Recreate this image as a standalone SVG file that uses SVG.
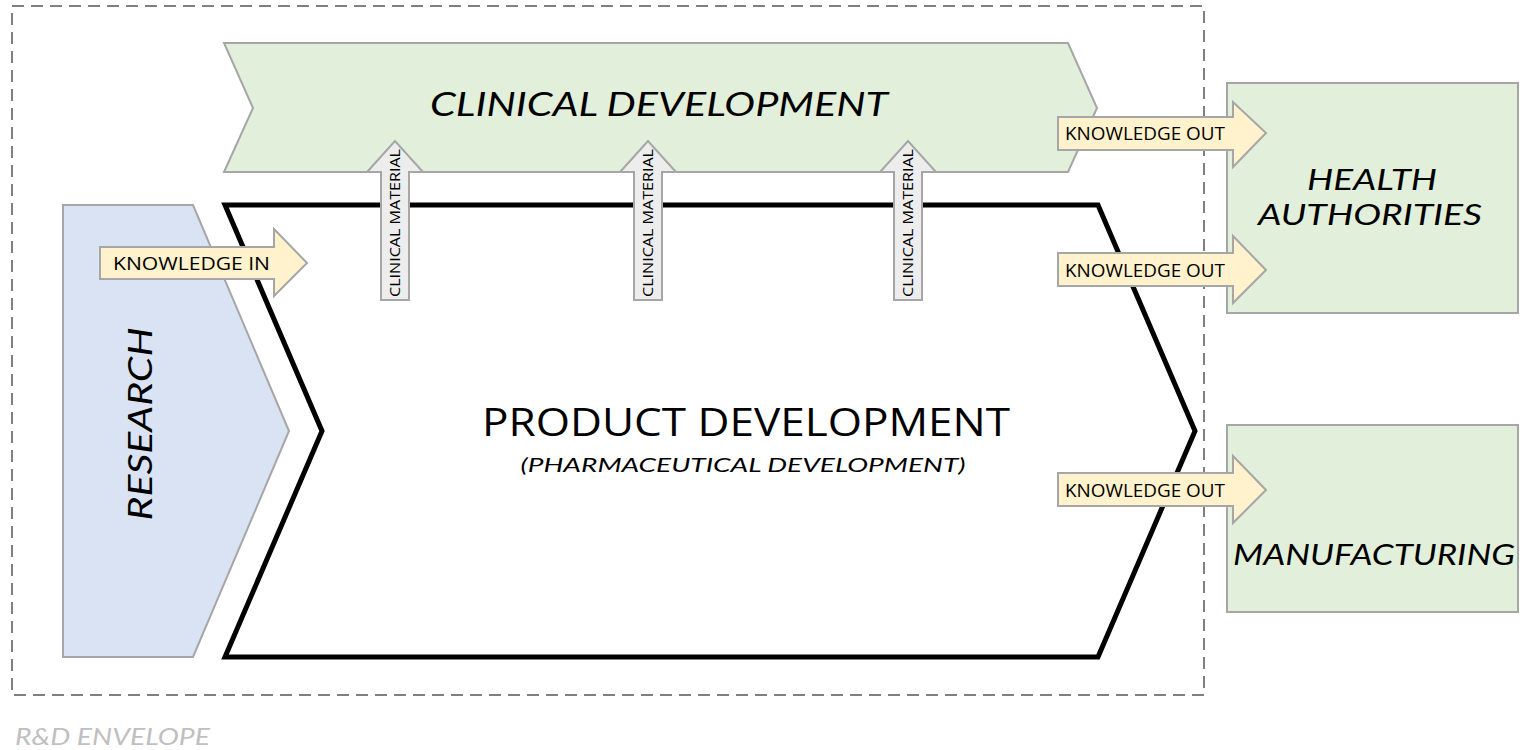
<svg xmlns="http://www.w3.org/2000/svg" width="1531" height="750" viewBox="0 0 1531 750">
<style>
.hand{font-family:"Lato","DejaVu Sans","Liberation Sans",sans-serif;font-style:italic;font-weight:normal;fill:#000}
.cal{font-family:"Open Sans","Liberation Sans",sans-serif;fill:#000}
.ko{fill:#fff2cc;stroke:#a6a6a6;stroke-width:2}
.cm{fill:#ededed;stroke:#a6a6a6;stroke-width:2}
.box{fill:#e2efda;stroke:#a6a6a6;stroke-width:2}
</style>
<rect width="1531" height="750" fill="#fff"/>
<g id="envelope">
<rect x="12" y="6" width="1192" height="689" fill="none" stroke="#808080" stroke-width="2" stroke-dasharray="12,7"/>
<text class="hand" x="15" y="745" font-size="24" style="fill:#bfbfbf" textLength="195" lengthAdjust="spacingAndGlyphs">R&amp;D ENVELOPE</text>
</g>
<g id="clinical">
<polygon points="224,43 1068,43 1097,108 1068,172 224,172 253,108" fill="#e2efda" stroke="#a6a6a6" stroke-width="2"/>
<text class="hand" x="659" y="116" font-size="32" text-anchor="middle" textLength="458" lengthAdjust="spacingAndGlyphs">CLINICAL DEVELOPMENT</text>
</g>
<g id="research">
<polygon points="63,205 193,205 289,431 193,657 63,657" fill="#dae3f3" stroke="#a6a6a6" stroke-width="2"/>
<text class="hand" transform="translate(152,424) rotate(-90)" font-size="32" text-anchor="middle" textLength="193" lengthAdjust="spacingAndGlyphs">RESEARCH</text>
</g>
<g id="product">
<polygon points="225,205 1098,205 1195,431 1098,657 225,657 322,431" fill="#fff" stroke="#000" stroke-width="5" stroke-linejoin="miter"/>
<text class="cal" x="746" y="436" font-size="39" text-anchor="middle" textLength="528" lengthAdjust="spacingAndGlyphs">PRODUCT DEVELOPMENT</text>
<text class="hand" x="743" y="472" font-size="20" text-anchor="middle" textLength="445" lengthAdjust="spacingAndGlyphs">(PHARMACEUTICAL DEVELOPMENT)</text>
</g>
<g id="health">
<rect class="box" x="1227" y="83" width="291" height="230"/>
<text class="hand" x="1372" y="190" font-size="28" text-anchor="middle" textLength="130" lengthAdjust="spacingAndGlyphs">HEALTH</text>
<text class="hand" x="1370" y="225" font-size="28" text-anchor="middle" textLength="224" lengthAdjust="spacingAndGlyphs">AUTHORITIES</text>
</g>
<g id="manufacturing">
<rect class="box" x="1227" y="425" width="291" height="187"/>
<text class="hand" x="1374" y="565" font-size="28" text-anchor="middle" textLength="282" lengthAdjust="spacingAndGlyphs">MANUFACTURING</text>
</g>
<g id="connectors">
<g id="knowledge-in">
<polygon class="ko" points="100,247 274,247 274,229 307,263 274,296 274,279 100,279"/>
<text class="cal" x="113" y="270" font-size="19" textLength="157" lengthAdjust="spacingAndGlyphs">KNOWLEDGE IN</text>
</g>
<g id="ko1">
<polygon class="ko" points="1058,117 1233,117 1233,102 1266,133 1233,167 1233,150 1058,150"/>
<text class="cal" x="1065" y="140" font-size="19" textLength="160" lengthAdjust="spacingAndGlyphs">KNOWLEDGE OUT</text>
</g>
<g id="ko2">
<polygon class="ko" points="1058,253 1233,253 1233,236 1266,270 1233,303 1233,286 1058,286"/>
<text class="cal" x="1065" y="277" font-size="19" textLength="160" lengthAdjust="spacingAndGlyphs">KNOWLEDGE OUT</text>
</g>
<g id="ko3">
<polygon class="ko" points="1058,473 1233,473 1233,456 1266,490 1233,523 1233,506 1058,506"/>
<text class="cal" x="1065" y="497" font-size="19" textLength="160" lengthAdjust="spacingAndGlyphs">KNOWLEDGE OUT</text>
</g>
<g id="cm1">
<polygon class="cm" points="381,300 381,172 367,172 395,141 423,172 409,172 409,300"/>
<text class="cal" transform="translate(400,297) rotate(-90)" font-size="14" textLength="148" lengthAdjust="spacingAndGlyphs">CLINICAL MATERIAL</text>
</g>
<g id="cm2">
<polygon class="cm" points="634,300 634,172 620,172 648,141 676,172 662,172 662,300"/>
<text class="cal" transform="translate(653,297) rotate(-90)" font-size="14" textLength="148" lengthAdjust="spacingAndGlyphs">CLINICAL MATERIAL</text>
</g>
<g id="cm3">
<polygon class="cm" points="894,300 894,172 880,172 908,141 936,172 922,172 922,300"/>
<text class="cal" transform="translate(913,297) rotate(-90)" font-size="14" textLength="148" lengthAdjust="spacingAndGlyphs">CLINICAL MATERIAL</text>
</g>
</g>
</svg>
